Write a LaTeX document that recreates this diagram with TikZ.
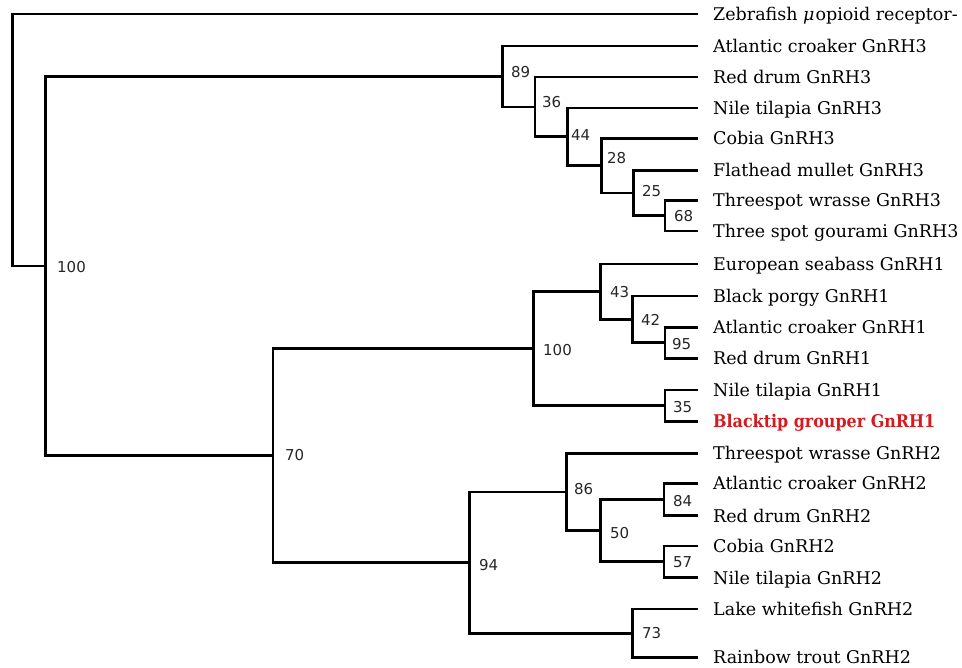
\documentclass[tikz,border=0pt]{standalone}
\usepackage{fontspec}
\usepackage{graphicx}
\setmainfont{DejaVu Serif}
\newfontfamily\numfont{DejaVu Sans}
\definecolor{grouper}{RGB}{215,25,32}
\begin{document}
\begin{tikzpicture}[x=1pt,y=-1pt,
  branch/.style={line width=2.8pt,black},
  leaf/.style={anchor=base west,inner sep=0pt,font=\fontsize{17.5}{20}\selectfont},
  boot/.style={anchor=west,inner sep=0pt,text=black!85,font=\numfont\fontsize{15}{18}\selectfont}]
\useasboundingbox (0,0) rectangle (962,668);
% internal nodes
\coordinate (root)  at (12.7,140);
\coordinate (n100a) at (45.7,266.1);
\coordinate (n89)   at (502.7,76.5);
\coordinate (n36)   at (535,107);
\coordinate (n44)   at (567.3,136.9);
\coordinate (n28)   at (601.7,165.8);
\coordinate (n25)   at (633.3,193.1);
\coordinate (n68)   at (665,215.75);
\coordinate (n70)   at (273,455.7);
\coordinate (n100b) at (533.3,348.8);
\coordinate (n43)   at (600.7,291.7);
\coordinate (n42)   at (632.7,319.4);
\coordinate (n95)   at (665,342.8);
\coordinate (n35)   at (665,405.8);
\coordinate (n94)   at (469.3,562.6);
\coordinate (n86)   at (566.7,492);
\coordinate (n50)   at (600.7,530.7);
\coordinate (n84)   at (664,499.5);
\coordinate (n57)   at (664,561.8);
\coordinate (n73)   at (632.7,633.2);
% leaves
\foreach \i/\y in {1/14,2/46,3/77,4/108,5/138.5,6/170.5,7/200.5,8/231,
  9/264,10/296,11/327.3,12/358.3,13/390,14/421.7,
  15/453.3,16/483.3,17/515.7,18/546,19/577.7,20/609,21/657.3}
  \coordinate (l\i) at (698,\y);
% branches
\foreach \p/\c in {root/l1,root/n100a,n100a/n89,n100a/n70,
  n89/l2,n89/n36,n36/l3,n36/n44,n44/l4,n44/n28,n28/l5,n28/n25,
  n25/l6,n25/n68,n68/l7,n68/l8,
  n70/n100b,n70/n94,n100b/n43,n100b/n35,n43/l9,n43/n42,n42/l10,n42/n95,
  n95/l11,n95/l12,n35/l13,n35/l14,
  n94/n86,n94/n73,n86/l15,n86/n50,n50/n84,n50/n57,n84/l16,n84/l17,
  n57/l18,n57/l19,n73/l20,n73/l21}
  \draw[branch] (\p) |- (\c);
% leaf labels
\node[leaf] (t1)  at (713,20.3)  {Zebrafish \textit{μ}\kern1pt opioid receptor-};
\node[leaf] (t2)  at (713,52.3)  {Atlantic croaker GnRH3};
\node[leaf] (t3)  at (713,83.3)  {Red drum GnRH3};
\node[leaf] (t4)  at (713,114.3) {Nile tilapia GnRH3};
\node[leaf] (t5)  at (713,144.8) {Cobia GnRH3};
\node[leaf] (t6)  at (713,176.8) {Flathead mullet GnRH3};
\node[leaf] (t7)  at (713,206.8) {Threespot wrasse GnRH3};
\node[leaf] (t8)  at (713,237.3) {Three spot gourami GnRH3};
\node[leaf] (t9)  at (713,270.3) {European seabass GnRH1};
\node[leaf] (t10) at (713,302.3) {Black porgy GnRH1};
\node[leaf] (t11) at (713,333.6) {Atlantic croaker GnRH1};
\node[leaf] (t12) at (713,364.6) {Red drum GnRH1};
\node[leaf] (t13) at (713,396.3) {Nile tilapia GnRH1};
\node[leaf,text=grouper] (t14) at (713,428) {\scalebox{0.91}[1]{\bfseries Blacktip grouper GnRH1}};
\node[leaf] (t15) at (713,459.6) {Threespot wrasse GnRH2};
\node[leaf] (t16) at (713,489.6) {Atlantic croaker GnRH2};
\node[leaf] (t17) at (713,522)   {Red drum GnRH2};
\node[leaf] (t18) at (713,552.3) {Cobia GnRH2};
\node[leaf] (t19) at (713,584)   {Nile tilapia GnRH2};
\node[leaf] (t20) at (713,615.3) {Lake whitefish GnRH2};
\node[leaf] (t21) at (713,663.6) {Rainbow trout GnRH2};
% bootstrap values
\node[boot] (b100a) at (57,267)   {100};
\node[boot] (b89)   at (511,72.5) {89};
\node[boot] (b36)   at (542,102)  {36};
\node[boot] (b44)   at (571,135)  {44};
\node[boot] (b28)   at (607,158)  {28};
\node[boot] (b25)   at (642,191.5){25};
\node[boot] (b68)   at (674,216.5){68};
\node[boot] (b43)   at (610,292)  {43};
\node[boot] (b42)   at (641,320)  {42};
\node[boot] (b95)   at (672,344)  {95};
\node[boot] (b100b) at (543,350.5){100};
\node[boot] (b35)   at (673,407.5){35};
\node[boot] (b70)   at (285,455)  {70};
\node[boot] (b94)   at (479,565)  {94};
\node[boot] (b86)   at (574,489.3){86};
\node[boot] (b50)   at (610,532.7){50};
\node[boot] (b84)   at (673,501)  {84};
\node[boot] (b57)   at (673,561.7){57};
\node[boot] (b73)   at (642,633.3){73};
\end{tikzpicture}
\end{document}
